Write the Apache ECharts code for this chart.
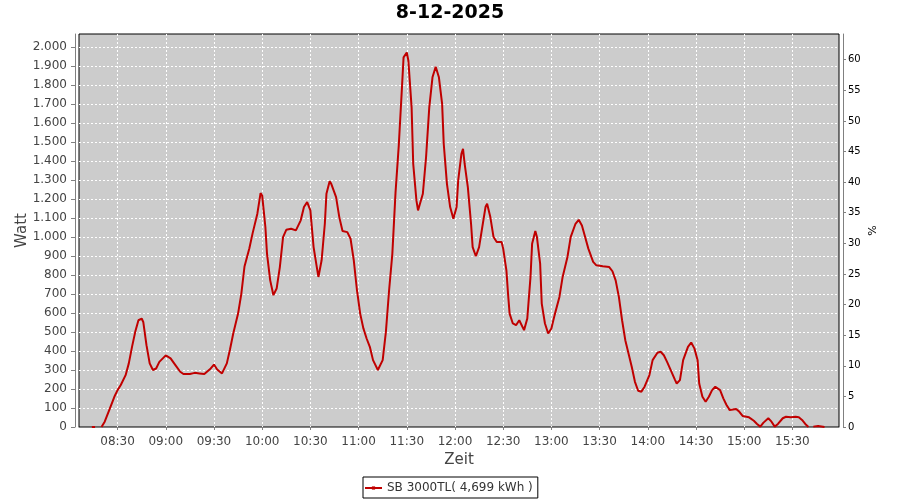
<!DOCTYPE html>
<html>
<head>
<meta charset="utf-8">
<script src="https://cdn.jsdelivr.net/npm/echarts@6/dist/echarts.min.js"></script>
<style>
  html, body { margin: 0; padding: 0; background: #fff; }
  #main { width: 900px; height: 500px; }
</style>
</head>
<body>
<div id="main"></div>
<script>
// Zeitpunkte und Leistung (W)
var times = [
  '08:14','08:16','08:18','08:20','08:22','08:25','08:28','08:30','08:32','08:35','08:37','08:39','08:41','08:43','08:45','08:46','08:48','08:50','08:52','08:54','08:56',
  '09:00','09:03','09:06','09:09','09:11','09:15','09:18','09:21','09:24','09:28','09:30','09:32','09:35','09:38','09:40','09:42','09:45','09:47','09:49','09:52','09:54','09:57','09:59',
  '10:00','10:02','10:03','10:05','10:07','10:09','10:11','10:13','10:15','10:18','10:21','10:24','10:26','10:28','10:30','10:32','10:34','10:35','10:37','10:39','10:40','10:42','10:43','10:46','10:48','10:50','10:53','10:55','10:57','10:59',
  '11:01','11:03','11:05','11:07','11:09','11:12','11:15','11:17','11:19','11:21','11:23','11:25','11:27','11:28','11:30','11:31','11:33','11:34','11:36','11:37','11:40','11:42','11:44','11:46','11:48','11:50','11:52','11:53','11:55','11:57','11:59',
  '12:01','12:02','12:04','12:05','12:06','12:08','12:10','12:11','12:13','12:15','12:17','12:19','12:20','12:22','12:24','12:26','12:29','12:30','12:32','12:33','12:34','12:36','12:38','12:40','12:41','12:43','12:45','12:47','12:48','12:50','12:51','12:53','12:54','12:56','12:58',
  '13:00','13:02','13:05','13:07','13:10','13:12','13:15','13:17','13:19','13:21','13:23','13:26','13:28','13:32','13:36','13:38','13:40','13:42','13:44','13:46','13:48','13:50','13:52','13:54','13:56','13:58',
  '14:01','14:03','14:06','14:08','14:10','14:12','14:14','14:17','14:18','14:20','14:22','14:25','14:27','14:29','14:31','14:32','14:34','14:36','14:38','14:40','14:42','14:45','14:47','14:49','14:51','14:55','14:57','14:59',
  '15:00','15:03','15:06','15:08','15:10','15:12','15:15','15:17','15:19','15:21','15:24','15:26','15:29','15:32','15:34','15:36','15:38','15:40','15:41','15:43','15:46','15:50'
];
var watt = [
  0,0,null,0,28,93,159,194,221,273,335,422,501,562,571,553,431,335,300,308,343,
  377,361,326,291,279,279,285,282,279,308,329,303,282,335,409,492,597,700,845,940,1018,1123,1231,
  1219,1053,913,772,694,729,842,1000,1038,1044,1035,1088,1158,1184,1140,947,842,790,878,1070,1228,1294,1280,1210,1105,1032,1026,991,878,720,
  597,519,466,422,352,300,352,501,720,910,1235,1480,1788,1946,1972,1928,1683,1386,1193,1140,1228,1420,1683,1841,1897,1841,1701,1491,1280,1158,1096,
  1158,1298,1438,1464,1386,1263,1070,947,899,947,1053,1158,1175,1105,1000,974,974,939,825,703,597,545,536,562,553,510,571,790,965,1032,1000,860,650,545,492,
  519,589,685,790,895,1000,1070,1091,1061,1000,939,869,851,846,842,820,772,685,562,457,387,317,238,191,186,212,
  273,352,391,396,378,343,305,247,229,247,352,422,445,414,352,229,159,133,159,194,212,194,151,116,89,95,80,58,
  49,51,33,16,2,23,46,28,2,16,46,54,51,54,51,37,16,0,null,2,5,0
];
var xTickLabels = ['08:30','09:00','09:30','10:00','10:30','11:00','11:30','12:00','12:30','13:00','13:30','14:00','14:30','15:00','15:30'];
var wattTicks = [0,100,200,300,400,500,600,700,800,900,1000,1100,1200,1300,1400,1500,1600,1700,1800,1900,2000];
var pctTicks = [0,5,10,15,20,25,30,35,40,45,50,55,60];
var seriesName = 'SB 3000TL( 4,699 kWh )';

function toMin(s) { return parseInt(s.slice(0, 2), 10) * 60 + parseInt(s.slice(3), 10); }
function fmtTime(v) {
  var h = Math.floor(v / 60), m = v % 60;
  return (h < 10 ? '0' : '') + h + ':' + (m < 10 ? '0' : '') + m;
}
function fmtWatt(v) {
  if (v >= 1000) {
    var r = String(v % 1000);
    while (r.length < 3) r = '0' + r;
    return Math.floor(v / 1000) + '.' + r;
  }
  return String(v);
}

var points = times.map(function (t, i) { return [toMin(t), watt[i]]; });
var xTicks = xTickLabels.map(toMin);

var font = 'DejaVu Sans';
var axisGray = '#808080';
var red = '#c00000';

var chart = echarts.init(document.getElementById('main'));
chart.setOption({
  animation: false,
  backgroundColor: '#ffffff',
  title: {
    text: '8-12-2025',
    left: 'center',
    top: 4,
    padding: 0,
    textStyle: { fontFamily: font, fontSize: 19, fontWeight: 'bold', color: '#000' }
  },
  legend: {
    data: [seriesName],
    left: 363,
    top: 477,
    padding: [4, 5, 3, 1],
    borderColor: '#000',
    borderWidth: 1,
    borderRadius: 0,
    itemWidth: 17,
    itemHeight: 4,
    textStyle: { fontFamily: font, fontSize: 12, color: '#333', lineHeight: 14 }
  },
  grid: {
    left: 79, right: 61, top: 34, bottom: 73,
    show: true,
    backgroundColor: '#cccccc',
    borderColor: '#000',
    borderWidth: 1,
    outerBoundsMode: 'none'
  },
  xAxis: {
    type: 'value',
    min: 486,
    max: 959,
    offset: 4,
    name: 'Zeit',
    nameLocation: 'middle',
    nameGap: 22,
    nameMoveOverlap: false,
    nameTextStyle: { fontFamily: font, fontSize: 15, color: '#444' },
    axisLine: { show: true, lineStyle: { color: axisGray, width: 1 } },
    axisTick: { show: true, length: 3, customValues: xTicks, lineStyle: { color: axisGray } },
    axisLabel: {
      customValues: xTicks,
      margin: 5,
      fontFamily: font, fontSize: 12, color: '#444',
      formatter: fmtTime
    },
    splitLine: { show: true, lineStyle: { color: '#ffffff', type: [2, 2], width: 1 } }
  },
  yAxis: [
    {
      type: 'value',
      min: 0,
      max: 2069,
      position: 'left',
      offset: 4,
      name: 'Watt',
      nameLocation: 'middle',
      nameGap: 45,
      nameMoveOverlap: false,
      nameTextStyle: { fontFamily: font, fontSize: 15, color: '#444' },
      axisLine: { show: true, lineStyle: { color: axisGray, width: 1 } },
      axisTick: { show: true, length: 4, customValues: wattTicks, lineStyle: { color: axisGray } },
      axisLabel: {
        customValues: wattTicks,
        margin: 8,
        fontFamily: font, fontSize: 12, color: '#444',
        formatter: fmtWatt
      },
      splitLine: { show: true, lineStyle: { color: '#ffffff', type: [2, 2], width: 1 } }
    },
    {
      type: 'value',
      min: 0,
      max: 64.2,
      position: 'right',
      offset: 4,
      name: '%',
      nameLocation: 'middle',
      nameGap: 25,
      nameMoveOverlap: false,
      nameTextStyle: { fontFamily: font, fontSize: 11, color: '#000' },
      axisLine: { show: true, lineStyle: { color: axisGray, width: 1 } },
      axisTick: { show: true, length: 3, customValues: pctTicks, lineStyle: { color: axisGray } },
      axisLabel: {
        customValues: pctTicks,
        margin: 5,
        fontFamily: font, fontSize: 10, color: '#000'
      },
      splitLine: { show: false }
    }
  ],
  series: [
    {
      name: seriesName,
      type: 'line',
      yAxisIndex: 0,
      data: points,
      showSymbol: false,
      symbol: 'rect',
      symbolSize: 3,
      connectNulls: false,
      lineStyle: { color: red, width: 2 },
      itemStyle: { color: red }
    }
  ]
});
</script>
</body>
</html>
